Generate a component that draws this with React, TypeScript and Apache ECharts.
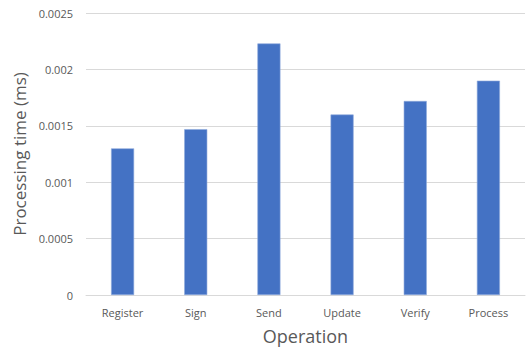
import React, { useEffect, useRef } from "react";
import * as echarts from "echarts";

const operations = ["Register", "Sign", "Send", "Update", "Verify", "Process"];
const processingTimes = [0.0013, 0.00147, 0.00223, 0.0016, 0.00172, 0.0019];
const yTicks = { min: 0, max: 0.0025, interval: 0.0005 };

const textColor = "#595959";
const font = "'Open Sans', 'Liberation Sans', sans-serif";

export default function App() {
  const ref = useRef<HTMLDivElement>(null);

  useEffect(() => {
    if (!ref.current) return;
    const chart = echarts.init(ref.current, undefined, { renderer: "svg" });
    chart.setOption({
      animation: false,
      grid: { left: 86, right: 2, top: 13, bottom: 57, containLabel: false },
      xAxis: {
        type: "category",
        data: operations,
        name: "Operation",
        nameLocation: "middle",
        nameGap: 32,
        nameTextStyle: { color: textColor, fontSize: 18, fontFamily: font },
        axisLine: { lineStyle: { color: "#d9d9d9" } },
        axisTick: { show: false },
        axisLabel: { color: textColor, fontSize: 11, fontFamily: font, margin: 12 },
      },
      yAxis: {
        type: "value",
        min: yTicks.min,
        max: yTicks.max,
        interval: yTicks.interval,
        name: "Processing time (ms)",
        nameLocation: "middle",
        nameGap: 54,
        nameTextStyle: { color: textColor, fontSize: 17, fontFamily: font },
        axisLine: { show: false },
        axisTick: { show: false },
        axisLabel: {
          color: textColor,
          fontSize: 11,
          fontFamily: font,
          margin: 13,
          formatter: (v: number) => String(v),
        },
        splitLine: { lineStyle: { color: "#d9d9d9", width: 1 } },
      },
      series: [
        {
          type: "bar",
          data: processingTimes,
          barWidth: "31.5%",
          itemStyle: { color: "#4472C4", borderColor: "#8faadc", borderWidth: 0.6 },
        },
      ],
    });
    return () => chart.dispose();
  }, []);

  return (
    <div
      ref={ref}
      style={{ position: "fixed", left: 0, top: 0, width: 527, height: 352, background: "#fff" }}
    />
  );
}
